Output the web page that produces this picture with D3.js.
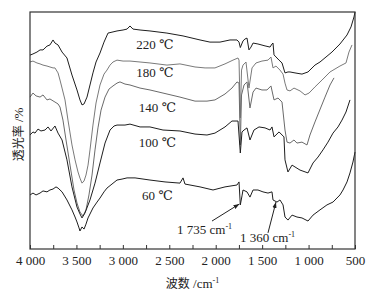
<!DOCTYPE html>
<html><head><meta charset="utf-8">
<script src="https://cdn.jsdelivr.net/npm/d3@7"></script>
<style>body{margin:0;background:#fff}</style>
</head><body><svg id="c" width="383" height="292"></svg>
<script>
// FTIR spectra: [wavenumber cm-1, transmittance (arb. %)]
const s220 = [[4000,81.8],[3968,82.3],[3925,83.1],[3892,84.0],[3860,84.0],[3817,85.6],[3785,86.1],[3752,88.2],[3731,86.9],[3698,86.1],[3655,83.1],[3602,80.6],[3548,73.4],[3494,67.1],[3462,62.9],[3440,60.8],[3418,61.2],[3386,64.1],[3354,69.2],[3322,74.3],[3289,78.9],[3246,82.7],[3203,87.3],[3160,91.1],[3106,91.6],[3063,92.0],[2998,92.4],[2955,92.8],[2923,94.1],[2891,92.8],[2815,92.4],[2708,92.0],[2525,91.1],[2352,89.9],[2169,88.2],[2062,87.3],[1954,87.3],[1846,88.2],[1771,88.2],[1749,87.3],[1735,85.0],[1706,87.8],[1685,88.6],[1663,89.0],[1642,84.0],[1620,85.2],[1598,86.9],[1545,86.5],[1469,85.7],[1415,85.2],[1394,86.5],[1383,86.9],[1372,81.9],[1318,79.7],[1286,78.5],[1254,74.3],[1222,74.7],[1200,74.7],[1146,74.3],[1071,73.8],[1006,74.7],[931,77.6],[877,78.9],[748,83.1],[662,86.5],[586,90.3],[543,93.7],[511,97.9],[500,100.0]];
const s180 = [[4000,78.9],[3968,79.3],[3925,78.5],[3892,78.1],[3860,77.6],[3817,77.2],[3785,76.8],[3752,76.4],[3731,76.4],[3698,74.3],[3677,71.3],[3655,67.9],[3623,62.9],[3591,54.4],[3548,43.9],[3515,37.6],[3483,32.5],[3462,29.9],[3440,27.8],[3418,28.7],[3397,31.2],[3375,35.4],[3354,41.8],[3322,52.3],[3289,61.6],[3246,69.2],[3203,73.8],[3171,75.5],[3138,77.6],[3106,78.9],[3063,79.7],[2998,79.3],[2923,79.3],[2815,78.9],[2708,78.5],[2525,77.6],[2385,78.1],[2223,76.8],[2115,76.4],[2008,76.4],[1900,78.1],[1814,79.7],[1760,80.6],[1749,79.7],[1735,55.3],[1722,75.5],[1706,77.6],[1674,78.9],[1642,67.9],[1609,76.4],[1566,78.5],[1502,79.3],[1437,79.7],[1405,81.0],[1383,76.4],[1351,77.2],[1308,75.5],[1275,73.8],[1254,70.0],[1232,67.1],[1200,66.7],[1157,67.9],[1092,66.7],[1038,65.0],[995,65.8],[931,68.4],[855,71.3],[769,74.7],[662,77.2],[597,78.5],[565,83.1],[532,86.1]];
const s140 = [[4000,64.1],[3968,65.8],[3935,64.6],[3892,64.1],[3860,65.0],[3817,62.9],[3785,63.3],[3731,62.0],[3698,61.2],[3677,59.9],[3645,54.4],[3612,46.0],[3569,35.4],[3526,24.9],[3494,19.4],[3462,15.6],[3429,13.9],[3397,16.5],[3365,22.8],[3332,31.2],[3300,41.8],[3268,51.1],[3235,58.6],[3192,64.1],[3149,67.5],[3106,68.8],[3063,70.0],[3031,70.5],[2977,69.6],[2923,69.2],[2815,67.9],[2708,67.1],[2568,65.8],[2385,64.1],[2223,62.4],[2094,62.4],[2008,62.9],[1900,65.4],[1825,67.9],[1771,70.5],[1749,70.0],[1735,43.9],[1722,65.0],[1695,69.2],[1663,70.5],[1631,59.5],[1598,66.2],[1566,67.9],[1502,67.1],[1448,67.1],[1405,68.8],[1372,62.9],[1329,63.7],[1286,62.0],[1254,50.2],[1232,45.1],[1200,44.7],[1157,46.0],[1125,44.7],[1071,45.1],[1017,43.9],[985,48.1],[931,53.6],[888,57.8],[823,64.1],[769,69.2],[726,72.2]];
const s100 = [[4000,48.1],[3968,49.4],[3946,48.9],[3914,50.6],[3882,49.8],[3838,50.2],[3806,51.5],[3774,49.8],[3731,51.9],[3698,48.9],[3655,46.0],[3602,37.6],[3548,26.2],[3494,17.7],[3462,14.8],[3440,13.1],[3408,15.2],[3354,20.7],[3300,27.8],[3246,36.3],[3192,44.7],[3138,50.2],[3095,51.9],[3063,52.3],[2977,52.3],[2923,52.7],[2815,51.5],[2708,51.5],[2568,50.2],[2385,49.8],[2223,48.5],[2094,48.1],[2008,48.9],[1900,51.5],[1825,54.0],[1760,54.0],[1735,40.5],[1717,49.4],[1695,50.2],[1663,51.1],[1631,46.0],[1588,50.2],[1534,51.5],[1469,51.1],[1415,50.2],[1394,51.5],[1372,47.3],[1318,49.4],[1265,47.3],[1254,37.6],[1222,32.5],[1178,35.4],[1092,33.3],[1006,32.1],[952,36.3],[898,38.8],[845,41.8],[791,45.1],[737,48.9],[683,51.5],[640,54.4],[597,57.8],[554,62.9]];
const s60 = [[4000,22.8],[3968,23.6],[3935,22.8],[3892,23.6],[3860,24.5],[3817,24.1],[3785,24.9],[3752,25.3],[3720,26.2],[3698,25.7],[3655,24.1],[3602,20.7],[3548,16.5],[3515,13.5],[3494,11.4],[3472,8.9],[3462,7.6],[3440,9.3],[3418,8.4],[3397,10.5],[3375,13.1],[3322,17.3],[3278,19.8],[3246,21.5],[3203,24.1],[3171,25.7],[3117,27.4],[3063,29.1],[3009,29.5],[2955,30.0],[2869,30.0],[2708,29.1],[2546,28.3],[2385,27.8],[2352,30.0],[2331,27.4],[2169,26.2],[2029,24.9],[1900,26.2],[1771,27.0],[1749,28.3],[1735,18.6],[1717,22.4],[1706,24.9],[1663,24.1],[1631,21.9],[1598,24.9],[1545,24.9],[1491,24.1],[1437,23.6],[1394,24.1],[1383,20.7],[1340,19.8],[1308,20.7],[1275,18.6],[1254,13.5],[1222,12.2],[1178,14.3],[1125,13.5],[1071,13.1],[1006,11.8],[952,14.3],[877,16.5],[802,18.6],[737,19.8],[662,22.8],[629,24.9],[586,28.3],[554,32.1],[522,36.7],[500,40.9]];

const seriesNames = ["220 ℃","180 ℃","140 ℃","100 ℃","60 ℃"];
const seriesColors = ["#1e1e1e","#7a7a7a","#6a6a6a","#1e1e1e","#1e1e1e"];
const labelWn = [2654,2654,2627,2627,2627];
const labelT = [86.1,74.3,59.9,45.1,22.8];

const xTicks = [4000,3500,3000,2500,2000,1500,1000,500];
const xTickLabels = ["4 000","3 500","3 000","2 500","2 000","1 500","1 000","500"];
const xMinor = [3750,3250,2750,2250,1750,1250,750];

// annotations: text, text anchor point (wn,T), arrow from (wn,T) to (wn,T)
const annText = ["1 735 cm","1 360 cm"];
const annPos = [[2417,8.4],[1738,4.9]];
const annFrom = [[2040,11.8],[1437,6.8]];
const annTo = [[1745,19.0],[1351,19.8]];

const SERIF = '"Liberation Serif","DejaVu Serif","Times New Roman",serif';
const CJK = '"Noto Sans CJK SC","Noto Sans CJK JP",sans-serif';
const L = 30, R = 355, T = 12, B = 249;
const x = d3.scaleLinear().domain([4000,500]).range([L,R]);
const y = d3.scaleLinear().domain([0,100]).range([B,T]);
const svg = d3.select("#c");

const data = [s220,s180,s140,s100,s60];
const line = d3.line().x(d=>x(d[0])).y(d=>y(d[1]));
svg.append("g").selectAll("path").data(data).join("path")
  .attr("d", line).attr("fill","none")
  .attr("stroke",(d,i)=>seriesColors[i]).attr("stroke-width",1)
  .attr("stroke-linejoin","round");

// frame
svg.append("rect").attr("x",L).attr("y",T).attr("width",R-L).attr("height",B-T)
  .attr("fill","none").attr("stroke","#333").attr("stroke-width",1.2);

// axis
const ax = svg.append("g").attr("transform",`translate(0,${B})`)
  .call(d3.axisBottom(x).tickValues(xTicks).tickSize(-4).tickPadding(7)
    .tickFormat((d,i)=>xTickLabels[i]));
const axm = svg.append("g").attr("transform",`translate(0,${B})`)
  .call(d3.axisBottom(x).tickValues(xMinor).tickSize(-4).tickFormat(""));
[ax,axm].forEach(g=>{g.select(".domain").remove();
  g.selectAll("line").attr("stroke","#333");
  g.selectAll("text").style("font-size","13px").style("fill","#222")
   .style("font-family",SERIF);});

// curve labels
svg.append("g").selectAll("text").data(seriesNames).join("text")
  .attr("x",(d,i)=>x(labelWn[i])).attr("y",(d,i)=>y(labelT[i]))
  .attr("dy","0.35em").attr("text-anchor","middle")
  .style("font-size","13px").style("font-family",SERIF).style("fill","#222")
  .text(d=>d);

// arrows
svg.append("defs").append("marker").attr("id","ah").attr("viewBox","0 0 10 10")
  .attr("refX",10).attr("refY",5).attr("markerWidth",6).attr("markerHeight",6)
  .attr("orient","auto").append("path").attr("d","M0,1.5L10,5L0,8.5Z").attr("fill","#222");
annFrom.forEach((f,i)=>{
  svg.append("line").attr("x1",x(f[0])).attr("y1",y(f[1]))
    .attr("x2",x(annTo[i][0])).attr("y2",y(annTo[i][1]))
    .attr("stroke","#222").attr("stroke-width",1).attr("marker-end","url(#ah)");
  const t = svg.append("text").attr("x",x(annPos[i][0])).attr("y",y(annPos[i][1]))
    .attr("dy","0.35em").style("font-size","13px").style("font-family",SERIF).style("fill","#222");
  t.append("tspan").text(annText[i]);
  t.append("tspan").style("font-size","8px").attr("dy",-5).text("-1");
});

// axis titles
const xt = svg.append("text").attr("x",(L+R)/2).attr("y",283).attr("dy","0.35em")
  .attr("text-anchor","middle").style("font-size","13px").style("font-family",SERIF).style("fill","#222");
xt.append("tspan").style("font-family",CJK).style("font-size","12px").text("波数");
xt.append("tspan").text(" /cm");
xt.append("tspan").style("font-size","8px").attr("dy",-5).text("-1");

const yt = svg.append("text").attr("transform",`translate(18,${(T+B)/2+4}) rotate(-90)`)
  .attr("dy","0.35em").attr("text-anchor","middle").style("font-size","13px").style("font-family",SERIF).style("fill","#222");
yt.append("tspan").style("font-family",CJK).style("font-size","12px").text("透光率");
yt.append("tspan").text(" /%");
</script></body></html>
